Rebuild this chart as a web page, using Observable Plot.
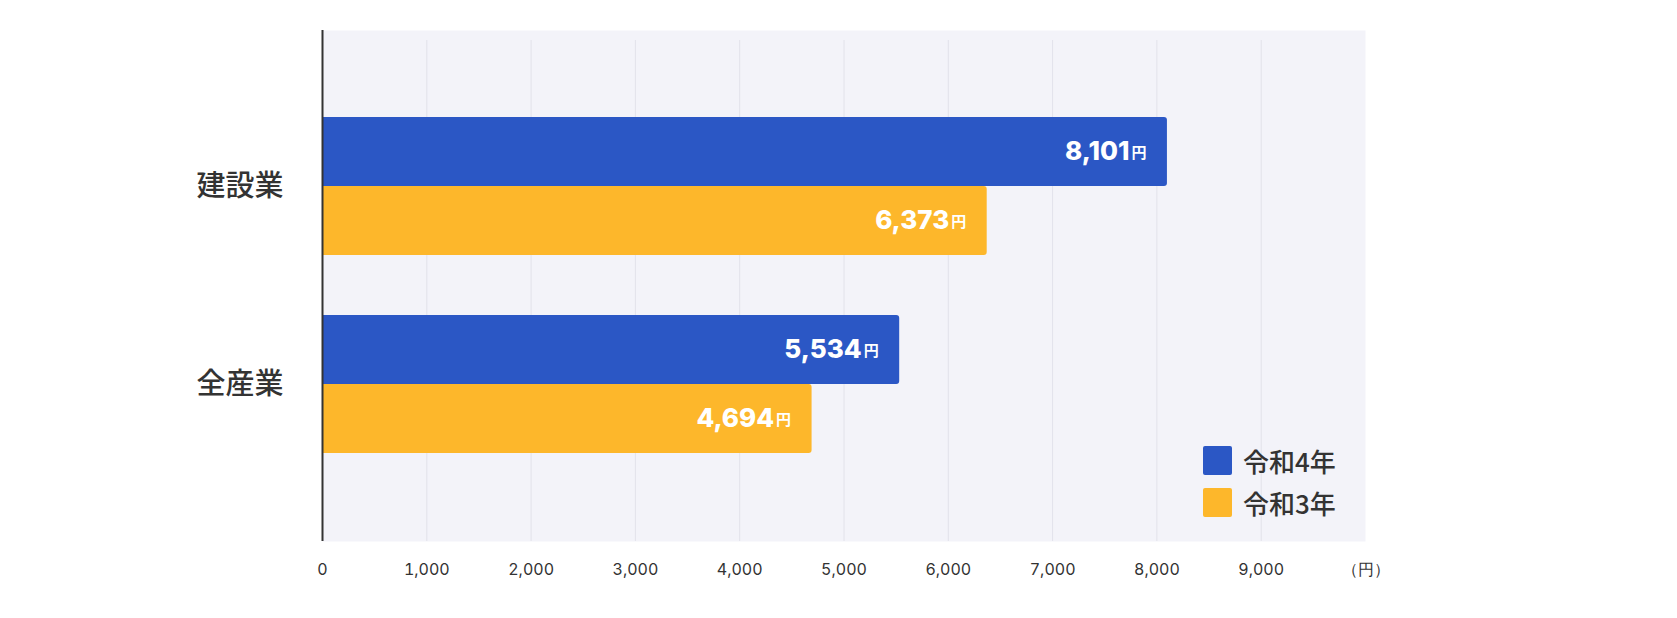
<!DOCTYPE html>
<html>
<head>
<meta charset="utf-8">
<script src="https://cdn.jsdelivr.net/npm/d3@7"></script>
<script src="https://cdn.jsdelivr.net/npm/@observablehq/plot@0.6"></script>
<style>
  html, body { margin: 0; padding: 0; background: #fff; }
  #wrap { position: relative; width: 1677px; height: 618px; }
  #wrap svg { position: absolute; left: 0; top: 0; }
  #legend { position: absolute; left: 1203px; top: 446px; font-family: "Noto Sans CJK JP", "Noto Sans", sans-serif; color: #333; font-size: 26px; font-weight: 500; }
  .row { display: flex; align-items: center; height: 29px; margin-bottom: 13px; }
  .sw { width: 29px; height: 29px; border-radius: 2px; margin-right: 11px; }
</style>
</head>
<body>
<div id="wrap"></div>
<script>
const categories = ["建設業", "全産業"];
const years = ["令和4年", "令和3年"];
const valuesR4 = [8101, 5534];
const valuesR3 = [6373, 4694];
const gridTicks = [1000, 2000, 3000, 4000, 5000, 6000, 7000, 8000, 9000];
const axisTicks = [0, 1000, 2000, 3000, 4000, 5000, 6000, 7000, 8000, 9000, 10000];
const axisTickLabels = ["0", "1,000", "2,000", "3,000", "4,000", "5,000", "6,000", "7,000", "8,000", "9,000", "（円）"];
const colors = ["#2b57c5", "#fdb72b"];

const data = categories.flatMap((c, i) => [
  {cat: c, year: years[0], value: valuesR4[i]},
  {cat: c, year: years[1], value: valuesR3[i]}
]);

const numFont = "Inter, Lato, sans-serif";
const cjkFont = "'Noto Sans CJK JP', 'Noto Sans', sans-serif";

const common = {
  width: 1677,
  height: 618,
  marginLeft: 322,
  marginRight: 312,
  marginTop: 30,
  marginBottom: 77,
  style: {fontFamily: cjkFont, background: "transparent", overflow: "visible"}
};

// layer 1: background and grid
const back = Plot.plot({
  ...common,
  x: {domain: [0, 10000], axis: null},
  marks: [
    Plot.frame({fill: "#f3f3f9", stroke: null}),
    Plot.ruleX(gridTicks, {x: d => d, stroke: "#e2e2ea", strokeWidth: 1, insetTop: 10})
  ]
});

// layer 2: grouped bars (faceted by category)
const bars = Plot.plot({
  ...common,
  x: {domain: [0, 10000], axis: null},
  y: {domain: years, padding: 0, axis: null},
  fy: {domain: categories, paddingInner: 0.3015, paddingOuter: 0.435},
  color: {domain: years, range: colors},
  marks: [
    Plot.barX(data, {x: "value", y: "year", fy: "cat", fill: "year", rx2: 3}),
    Plot.text(data, {x: "value", y: "year", fy: "cat", text: d => d3.format(",")(d.value), textAnchor: "end", dx: -38, fill: "white", fontWeight: 800, fontSize: 26, fontFamily: numFont}),
    Plot.text(data, {x: "value", y: "year", fy: "cat", text: () => "円", textAnchor: "end", dx: -21, dy: 1, fill: "white", fontWeight: "bold", fontSize: 15}),
    Plot.axisFy({anchor: "left", tickSize: 0, tickPadding: 39, fontSize: 29, fontWeight: 500, fill: "#333", label: null})
  ]
});

// layer 3: axis line and x tick labels
const front = Plot.plot({
  ...common,
  x: {domain: [0, 10000]},
  marks: [
    Plot.ruleX([0], {x: d => d, stroke: "#333", strokeWidth: 2}),
    Plot.axisX(axisTicks, {tickSize: 0, tickPadding: 22, tickFormat: d => axisTickLabels[axisTicks.indexOf(d)], fontSize: 16, fill: "#333", fontFamily: numFont, label: null})
  ]
});

const wrap = document.getElementById("wrap");
wrap.appendChild(back);
wrap.appendChild(bars);
wrap.appendChild(front);

const legend = document.createElement("div");
legend.id = "legend";
years.forEach((y, i) => {
  const row = document.createElement("div");
  row.className = "row";
  const sw = document.createElement("div");
  sw.className = "sw";
  sw.style.background = colors[i];
  const t = document.createElement("span");
  t.textContent = y;
  row.appendChild(sw);
  row.appendChild(t);
  legend.appendChild(row);
});
wrap.appendChild(legend);
</script>
</body>
</html>
